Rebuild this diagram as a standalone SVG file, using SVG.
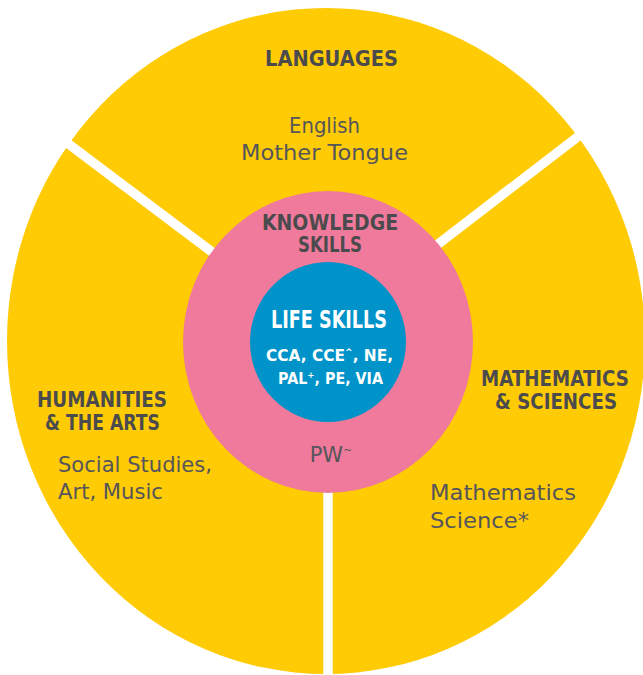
<svg xmlns="http://www.w3.org/2000/svg" width="643" height="675" viewBox="0 0 643 675">
<style>
.h{font-family:"DejaVu Sans","Liberation Sans",sans-serif;font-weight:bold;font-size:21px;fill:#4b4b4d;text-anchor:middle}
.t{font-family:"DejaVu Sans","Liberation Sans",sans-serif;font-size:21px;fill:#55555a}
.w{font-family:"DejaVu Sans","Liberation Sans",sans-serif;font-weight:bold;fill:#ffffff;text-anchor:middle}
.div{stroke:#ffffff;stroke-width:9.5;fill:none}
</style>
<rect width="643" height="675" fill="#ffffff"/>
<g id="outer-ring">
<ellipse cx="326" cy="341" rx="319" ry="333" fill="#ffcb05"/>
</g>
<g id="connectors">
<line class="div" x1="40" y1="122.5" x2="236" y2="270"/>
<line class="div" x1="610" y1="112" x2="420" y2="258"/>
<line class="div" x1="328" y1="480" x2="328" y2="680"/>
</g>
<g id="knowledge-skills">
<ellipse cx="328" cy="342" rx="145" ry="151" fill="#ef7a9b"/>
<text class="h" x="330" y="230" textLength="136" lengthAdjust="spacingAndGlyphs">KNOWLEDGE</text>
<text class="h" x="330" y="252" textLength="64" lengthAdjust="spacingAndGlyphs">SKILLS</text>
<text class="t" x="331" y="462" text-anchor="middle" font-size="20">PW<tspan font-size="11" dy="-8">~</tspan></text>
</g>
<g id="life-skills">
<ellipse cx="328" cy="342" rx="78" ry="80" fill="#0093c9"/>
<text class="w" x="329" y="328" font-size="24" textLength="116" lengthAdjust="spacingAndGlyphs">LIFE SKILLS</text>
<text class="w" x="329.5" y="361" font-size="15" textLength="127" lengthAdjust="spacingAndGlyphs">CCA, CCE<tspan font-size="9" dy="-6">^</tspan><tspan dy="6">, NE,</tspan></text>
<text class="w" x="330.5" y="384" font-size="15" textLength="105" lengthAdjust="spacingAndGlyphs">PAL<tspan font-size="9" dy="-6">+</tspan><tspan dy="6">, PE, VIA</tspan></text>
</g>
<g id="languages">
<text class="h" x="331.5" y="66" textLength="133" lengthAdjust="spacingAndGlyphs">LANGUAGES</text>
<text class="t" x="324.5" y="133" text-anchor="middle" textLength="71" lengthAdjust="spacingAndGlyphs">English</text>
<text class="t" x="324.5" y="160" text-anchor="middle" textLength="167" lengthAdjust="spacingAndGlyphs">Mother Tongue</text>
</g>
<g id="humanities-arts">
<text class="h" x="102" y="407" textLength="130" lengthAdjust="spacingAndGlyphs">HUMANITIES</text>
<text class="h" x="102.5" y="430" textLength="115" lengthAdjust="spacingAndGlyphs">&amp; THE ARTS</text>
<text class="t" x="58" y="472" textLength="154" lengthAdjust="spacingAndGlyphs">Social Studies,</text>
<text class="t" x="58" y="499" textLength="105" lengthAdjust="spacingAndGlyphs">Art, Music</text>
</g>
<g id="mathematics-sciences">
<text class="h" x="555" y="386" font-size="19.5" textLength="148" lengthAdjust="spacingAndGlyphs">MATHEMATICS</text>
<text class="h" x="556" y="409" textLength="122" lengthAdjust="spacingAndGlyphs">&amp; SCIENCES</text>
<text class="t" x="430" y="500" textLength="146" lengthAdjust="spacingAndGlyphs">Mathematics</text>
<text class="t" x="430" y="528" textLength="99" lengthAdjust="spacingAndGlyphs">Science*</text>
</g>
</svg>
